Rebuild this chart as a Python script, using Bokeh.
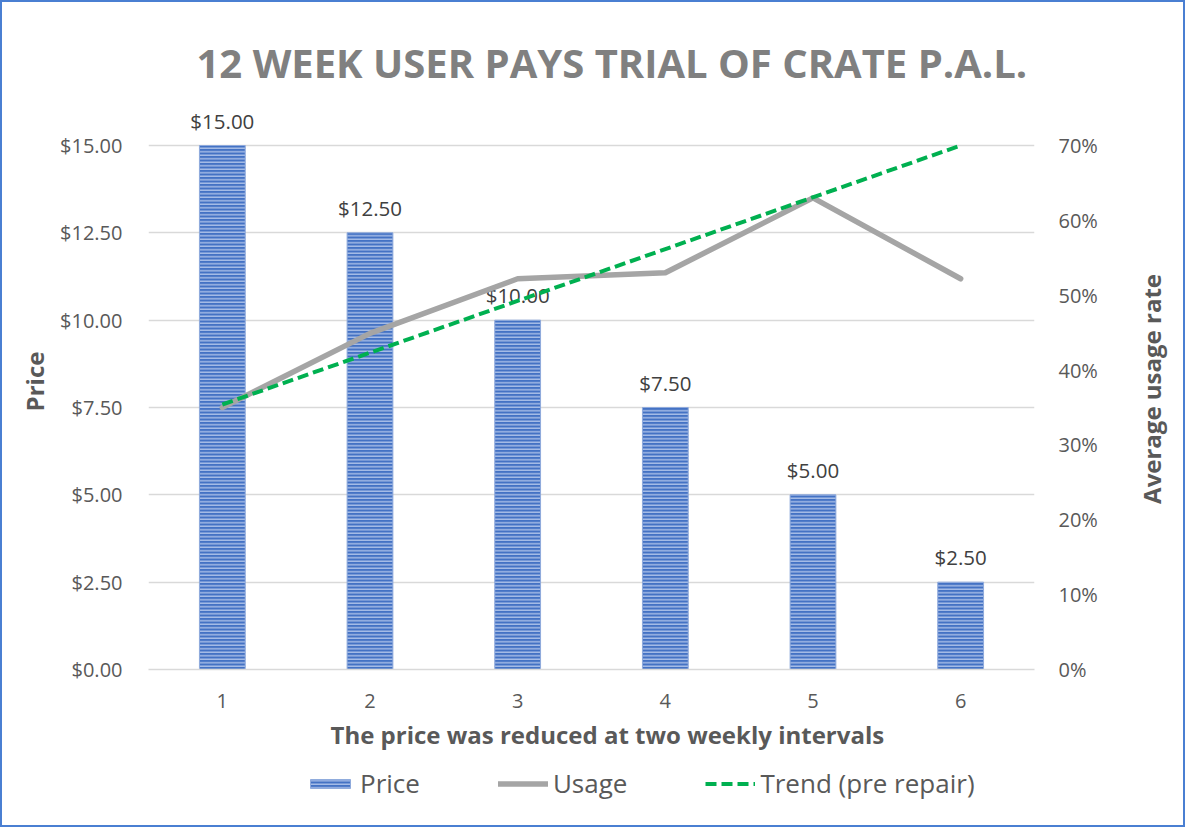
from bokeh.plotting import figure
from bokeh.layouts import column, row
from bokeh.models import (Range1d, LinearAxis, FixedTicker, NumeralTickFormatter,
                          PrintfTickFormatter, Legend, LegendItem, Title, Div)
from bokeh.core.properties import value
from bokeh.embed import file_html
from bokeh.resources import INLINE

# ---------------- data ----------------
periods = [1, 2, 3, 4, 5, 6]
price = [15.00, 12.50, 10.00, 7.50, 5.00, 2.50]
price_labels = ["$15.00", "$12.50", "$10.00", "$7.50", "$5.00", "$2.50"]
usage = [35.0, 44.9, 52.2, 53.0, 63.0, 52.2]          # percent
trend_x = [1, 6]
trend = [35.4, 70.0]                                   # percent
price_ticks = [0, 2.5, 5, 7.5, 10, 12.5, 15]
usage_ticks = [0, 10, 20, 30, 40, 50, 60, 70]
series_names = ["Price", "Usage", "Trend (pre repair)"]

title_text = "12 WEEK USER PAYS TRIAL OF CRATE P.A.L."
x_title = "The price was reduced at two weekly intervals"
y_title = "Price"
y2_title = "Average usage rate"

# ---------------- styles / layout ----------------
FONT = "Open Sans"
TICK_COLOR = "#595959"
BAR_STYLE = dict(fill_color="#4472c4", line_color="#8faadc", line_width=1,
                 hatch_pattern="horizontal_line", hatch_color="#bccdee",
                 hatch_scale=3.5, hatch_weight=1.2)
USAGE_STYLE = dict(line_color="#a5a5a5", line_width=5.5, line_join="round", line_cap="round")
TREND_STYLE = dict(line_color="#00b050", line_width=4, line_dash="11 5")

TOTAL_W, TOTAL_H = 1181, 823
FW, FH = 886, 576
MB_L, MB_R, MB_T, MB_B = 146, 88, 91, 100
MAIN_W = MB_L + FW + MB_R
SIDE_W = TOTAL_W - MAIN_W
LEG_H = TOTAL_H - (MB_T + FH + MB_B)
px_per_dollar = 524 / 15.0
y_end = FH / px_per_dollar
u_end = y_end * 70.0 / 15.0

p = figure(frame_width=FW, frame_height=FH, output_backend="svg", toolbar_location=None,
           x_range=Range1d(0.5, 6.5), y_range=Range1d(0, y_end),
           min_border_left=MB_L, min_border_right=MB_R,
           min_border_top=MB_T, min_border_bottom=MB_B)
p.extra_y_ranges = {"usage": Range1d(0, u_end)}
p.outline_line_color = None
p.background_fill_color = "white"
p.border_fill_color = "white"

# title
p.title.text = title_text
p.title.align = "left"
p.title.offset = 48
p.title.text_font = FONT
p.title.text_font_size = "40px"
p.title.text_font_style = "bold"
p.title.text_color = "#808080"
p.title.vertical_align = "bottom"
p.title.standoff = 7

def style_axis(ax, standoff):
    ax.axis_line_color = None
    ax.major_tick_line_color = None
    ax.minor_tick_line_color = None
    ax.major_label_standoff = standoff
    ax.major_label_text_font = FONT
    ax.major_label_text_font_size = "20px"
    ax.major_label_text_color = TICK_COLOR
    ax.axis_label_text_font = FONT
    ax.axis_label_text_font_size = "24px"
    ax.axis_label_text_font_style = "bold"
    ax.axis_label_text_color = TICK_COLOR

# left axis
ya = p.yaxis[0]
ya.ticker = FixedTicker(ticks=price_ticks)
ya.formatter = NumeralTickFormatter(format="$0.00")
style_axis(ya, 20)
ya.axis_label = y_title
ya.axis_label_standoff = 6

# right axis
ra = LinearAxis(y_range_name="usage", ticker=FixedTicker(ticks=usage_ticks),
                formatter=PrintfTickFormatter(format="%d%%"))
style_axis(ra, 18)
p.add_layout(ra, "right")

# x axis
xa = p.xaxis[0]
xa.ticker = FixedTicker(ticks=periods)
style_axis(xa, 18)
xa.axis_line_color = "#d9d9d9"
xa.axis_line_width = 1.5

xt = Title(text=x_title, align="left", offset=182, text_font=FONT,
           text_font_size="24px", text_font_style="bold", text_color=TICK_COLOR,
           vertical_align="bottom", standoff=10)
p.add_layout(xt, "below")

p.xgrid.grid_line_color = None
p.ygrid.grid_line_color = "#d9d9d9"
p.ygrid.grid_line_width = 1.5

# bars
bars = p.vbar(x=periods, top=price, width=0.31, **BAR_STYLE)

# data labels
p.text(x=periods, y=price, text=price_labels, y_offset=-25,
       text_align="center", text_baseline="middle",
       text_font=value(FONT), text_font_size="20.5px", text_color="#404040")

# usage line and trend
uline = p.line(periods, usage, y_range_name="usage", **USAGE_STYLE)
tline = p.line(trend_x, trend, y_range_name="usage", **TREND_STYLE)

# ---------------- legend strip ----------------
lg = figure(width=MAIN_W, height=LEG_H, output_backend="svg", toolbar_location=None,
            x_range=Range1d(0.5, 6.5), y_range=Range1d(200, 201),
            x_axis_location=None, y_axis_location=None, min_border=0)
lg.outline_line_color = None
lg.grid.visible = False
lg.background_fill_color = "white"
lg.border_fill_color = "white"
# same series, lying entirely below this strip's view: they only feed the legend glyphs
lb = lg.vbar(x=periods, top=price, width=0.31, **BAR_STYLE)
lu = lg.line(periods, usage, **USAGE_STYLE)
lt = lg.line(trend_x, trend, **TREND_STYLE)
legend = Legend(items=[LegendItem(label=series_names[0], renderers=[lb]),
                       LegendItem(label=series_names[1], renderers=[lu]),
                       LegendItem(label=series_names[2], renderers=[lt])],
                location=(157, 24), orientation="horizontal",
                padding=0, margin=0, spacing=78,
                glyph_width=50, glyph_height=11, label_standoff=5, label_height=26,
                label_text_font=FONT, label_text_font_size="26px",
                label_text_color=TICK_COLOR,
                border_line_color=None, background_fill_alpha=0)
lg.add_layout(legend, "center")

# ---------------- right axis title (reads bottom-to-top) ----------------
side_html = (
    f'<div style="width:{SIDE_W}px;height:{TOTAL_H}px;box-sizing:border-box;'
    'padding-bottom:49px;display:flex;align-items:center;justify-content:center;">'
    '<span style="writing-mode:vertical-rl;transform:rotate(180deg);'
    "font-family:'Open Sans';font-size:24px;font-weight:bold;color:#595959;"
    f'white-space:nowrap;">{y2_title}</span></div>')
side = Div(text=side_html, width=SIDE_W, height=TOTAL_H, margin=0)

layout = row(column(p, lg, spacing=0), side, spacing=0,
             styles={"border": "2px solid #4a7fd2", "background": "white"})
open("out.html", "w").write(file_html(layout, INLINE))
